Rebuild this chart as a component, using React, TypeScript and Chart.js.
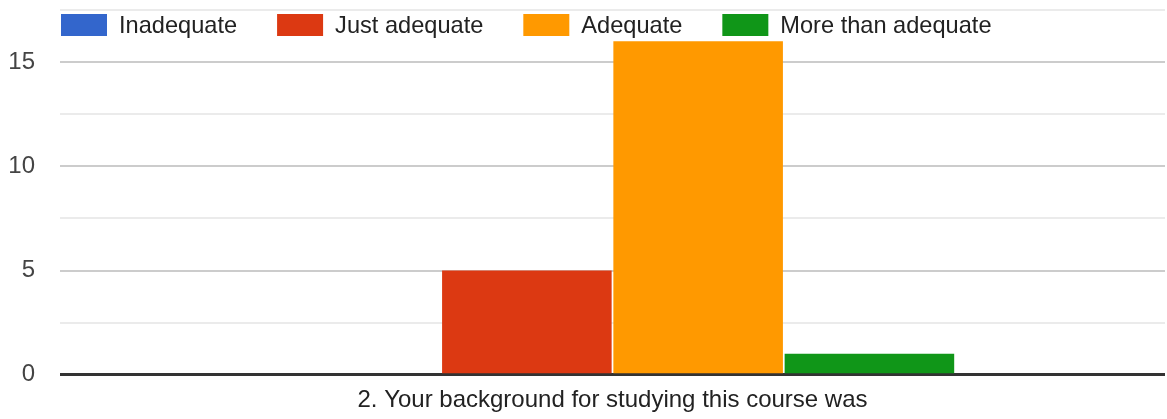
import React, { useEffect, useRef } from 'react';
import { Chart, registerables } from 'chart.js';

Chart.register(...registerables);

const categories = ['2. Your background for studying this course was'];
const seriesNames = ['Inadequate', 'Just adequate', 'Adequate', 'More than adequate'];
const inadequate = [0];
const justAdequate = [5];
const adequate = [16];
const moreThanAdequate = [1];
const seriesColors = ['#3366cc', '#dc3912', '#ff9900', '#109618'];
const yTickLabels = [0, 5, 10, 15];
const yMax = 17.5;
const yStep = 2.5;

const FONT = "'Liberation Sans', Arial, sans-serif";
const FONT_SIZE = 24;
const LEGEND_FONT_SIZE = 23.6;

const topLegend = {
  id: 'topLegend',
  afterDraw(chart: any) {
    const ctx = chart.ctx as CanvasRenderingContext2D;
    ctx.save();
    ctx.font = `${LEGEND_FONT_SIZE}px ${FONT}`;
    ctx.textBaseline = 'middle';
    ctx.textAlign = 'left';
    let x = chart.chartArea.left + 1;
    const y = 25;
    const boxW = 46;
    const boxH = 22;
    chart.data.datasets.forEach((ds: any) => {
      ctx.fillStyle = ds.backgroundColor;
      ctx.fillRect(x, y - boxH / 2, boxW, boxH);
      x += boxW + 12;
      ctx.fillStyle = '#222222';
      ctx.fillText(ds.label, x, y + 1);
      x += ctx.measureText(ds.label).width + 40;
    });
    ctx.restore();
  },
};

export default function App() {
  const canvasRef = useRef<HTMLCanvasElement | null>(null);

  useEffect(() => {
    if (!canvasRef.current) return;
    const values = [inadequate, justAdequate, adequate, moreThanAdequate];
    const chart = new Chart(canvasRef.current, {
      type: 'bar',
      data: {
        labels: categories,
        datasets: seriesNames.map((name, i) => ({
          label: name,
          data: values[i],
          backgroundColor: seriesColors[i],
          borderWidth: 0,
          categoryPercentage: 0.62,
          barPercentage: 0.99,
        })),
      },
      options: {
        animation: false,
        responsive: false,
        layout: { padding: { top: 10, right: 2, bottom: 0, left: 0 } },
        plugins: {
          legend: { display: false },
          tooltip: { enabled: false },
        },
        scales: {
          x: {
            grid: { display: false, drawTicks: false },
            border: { display: false },
            afterFit: (scale: any) => {
              scale.height = 44.3;
              scale.paddingLeft = 0;
              scale.paddingRight = 0;
            },
            ticks: {
              padding: 11,
              color: '#222222',
              font: { family: FONT, size: FONT_SIZE },
            },
          },
          y: {
            min: 0,
            max: yMax,
            afterFit: (scale: any) => {
              scale.width = 60;
              scale.paddingTop = 0;
              scale.paddingBottom = 0;
            },
            border: { display: false },
            grid: {
              drawTicks: false,
              color: (c: any) =>
                c.tick && c.tick.value === 0
                  ? '#333333'
                  : c.tick && yTickLabels.includes(c.tick.value)
                  ? '#cccccc'
                  : '#ebebeb',
              lineWidth: (c: any) => (c.tick && c.tick.value === 0 ? 3 : 2),
            },
            ticks: {
              stepSize: yStep,
              padding: 25,
              color: '#444444',
              font: { family: FONT, size: FONT_SIZE },
              callback: (v: any) => (yTickLabels.includes(Number(v)) ? String(v) : ''),
            },
          },
        },
      },
      plugins: [topLegend],
    });
    return () => chart.destroy();
  }, []);

  return (
    <div style={{ position: 'fixed', left: 0, top: 0, width: 1167, height: 419, background: '#fff' }}>
      <canvas ref={canvasRef} width={1167} height={419} style={{ display: 'block' }} />
    </div>
  );
}
